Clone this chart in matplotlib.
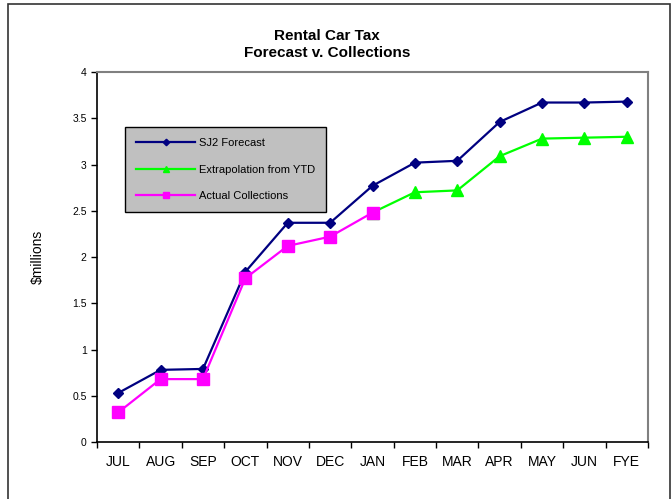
import matplotlib
matplotlib.use("Agg")
import matplotlib.pyplot as plt
from matplotlib.patches import Rectangle
import numpy as np

plt.rcParams['font.family'] = ['Liberation Sans', 'DejaVu Sans']

# monthly cumulative figures, $ millions
months = ['JUL', 'AUG', 'SEP', 'OCT', 'NOV', 'DEC', 'JAN',
          'FEB', 'MAR', 'APR', 'MAY', 'JUN', 'FYE']
forecast = [0.53, 0.78, 0.79, 1.84, 2.37, 2.37, 2.77,
            3.02, 3.04, 3.46, 3.67, 3.67, 3.68]
extrap_months = ['JAN', 'FEB', 'MAR', 'APR', 'MAY', 'JUN', 'FYE']
extrapolation = [2.48, 2.70, 2.72, 3.09, 3.28, 3.29, 3.30]
actual_months = ['JUL', 'AUG', 'SEP', 'OCT', 'NOV', 'DEC', 'JAN']
actual = [0.32, 0.68, 0.68, 1.77, 2.12, 2.22, 2.48]

fig = plt.figure(figsize=(6.71, 4.99), dpi=100)
ax = fig.add_axes([0.1446, 0.1142, 0.8211, 0.7415])

# outer chart border
fig.patches.append(Rectangle((0.012, -0.05), 0.986, 1.042, transform=fig.transFigure,
                             fill=False, edgecolor='#333333', linewidth=1.2))

pos = {m: i for i, m in enumerate(months)}
x_all = np.arange(len(months))

ax.plot(x_all, forecast, color='#000080', marker='D', markersize=5.5,
        linewidth=1.6, label='SJ2 Forecast', zorder=3)
ax.plot([pos[m] for m in extrap_months], extrapolation, color='#00ff00', marker='^',
        markersize=8, linewidth=1.6, label='Extrapolation from YTD', zorder=3)
ax.plot([pos[m] for m in actual_months], actual, color='#ff00ff', marker='s',
        markersize=8, linewidth=1.6, label='Actual Collections', zorder=4)

ax.set_xlim(-0.5, len(months) - 0.5)
ax.set_ylim(0, 4)
ax.set_yticks(np.arange(0, 4.01, 0.5))
ax.set_yticklabels(['0', '0.5', '1', '1.5', '2', '2.5', '3', '3.5', '4'])
ax.tick_params(axis='y', labelsize=7.5, length=4, width=1, direction='out')

# category labels between boundary ticks
ax.set_xticks(np.arange(-0.5, len(months)), minor=False)
ax.set_xticklabels([])
ax.set_xticks(x_all, minor=True)
ax.set_xticklabels(months, minor=True)
ax.tick_params(axis='x', which='major', length=4, width=1, direction='out')
ax.tick_params(axis='x', which='minor', length=0, labelsize=10, pad=9)

for side in ['left', 'bottom']:
    ax.spines[side].set_color('black')
    ax.spines[side].set_linewidth(1.2)
for side in ['top', 'right']:
    ax.spines[side].set_color('#808080')
    ax.spines[side].set_linewidth(1.5)

ax.set_ylabel('\\$millions', fontsize=10, labelpad=20)

fig.text(0.487, 0.911, 'Rental Car Tax\nForecast v. Collections', ha='center', va='center',
         fontsize=11, fontweight='bold', linespacing=1.25)

leg = ax.legend(loc='upper left', bbox_to_anchor=(0.041, 0.867), fontsize=8,
                frameon=True, fancybox=False, facecolor='#c0c0c0', framealpha=1,
                edgecolor='black', borderpad=1.0, labelspacing=1.5,
                handlelength=5.3, handletextpad=0.3, markerscale=0.6)
leg.get_frame().set_linewidth(1.0)

fig.savefig('out.png', dpi=100)
